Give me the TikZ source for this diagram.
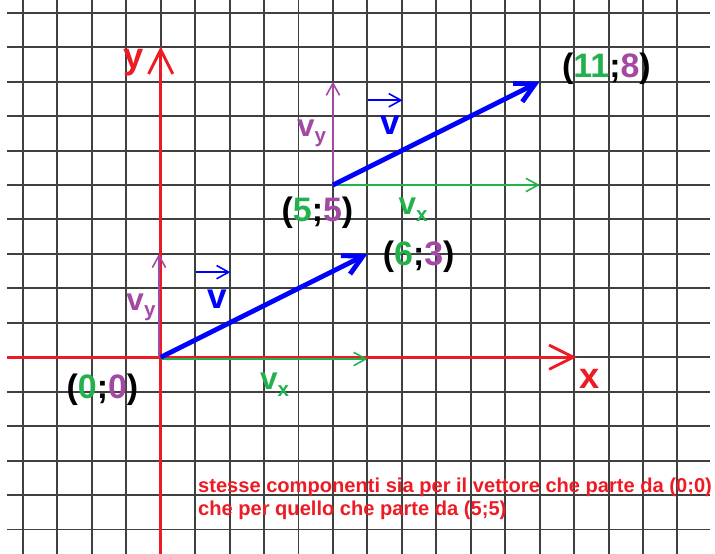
\documentclass[tikz,border=0pt]{standalone}
\usepackage{fontspec}
\setmainfont{Liberation Sans}[BoldFont={Liberation Sans Bold}]
\usetikzlibrary{arrows.meta, calc, positioning}
\definecolor{paintred}{RGB}{237,28,36}
\definecolor{paintgreen}{RGB}{34,177,76}
\definecolor{paintpurple}{RGB}{163,73,164}
\definecolor{paintblue}{RGB}{0,0,255}
\newcommand{\comp}[2]{#1\raisebox{-0.22em}{\fontsize{17}{17}\selectfont #2}}

\begin{document}
\begin{tikzpicture}[x=1cm, y=1cm,
    gridline/.style={black!75, line width=1.6pt},
    axis/.style={paintred, line width=2.4pt, -{Straight Barb[length=20pt, width=20pt]}},
    vec/.style={paintblue, line width=4pt, -{Straight Barb[length=16pt, width=17pt]}},
    compx/.style={paintgreen, line width=1.3pt, -{Straight Barb[length=10pt, width=11pt]}},
    compy/.style={paintpurple, line width=1.3pt, -{Straight Barb[length=10pt, width=11pt]}},
    overarrow/.style={paintblue, line width=1.3pt, -{Straight Barb[length=10pt, width=11pt]}},
    coordlbl/.style={font=\bfseries\fontsize{28}{28}\selectfont, inner sep=0pt},
    axislbl/.style={paintred, font=\bfseries\fontsize{30}{30}\selectfont, inner sep=0pt},
    vlbl/.style={font=\bfseries\fontsize{26}{26}\selectfont, inner sep=0pt, anchor=base west},
    note/.style={paintred, font=\bfseries\fontsize{16.6}{18.6}\selectfont, align=left, inner sep=0pt, anchor=base west}]
    \path[use as bounding box, fill=white] (-4.665,-5.71) rectangle (16.09,10.37);

    % quadretti
    \foreach \gx in {-4,...,15}
        \draw[gridline] (\gx,-5.71) -- (\gx,10.37);
    \foreach \gy in {-5,...,10}
        \draw[gridline] (-4.46,\gy) -- (15.94,\gy);

    \coordinate (O) at (0,0);
    \coordinate (A) at (6,3);
    \coordinate (B) at (5,5);
    \coordinate (C) at (11,8);
    \coordinate (Ax) at (6,-0.05);
    \coordinate (Ay) at (-0.05,3);
    \coordinate (Ox) at (0,-0.05);
    \coordinate (Oy) at (-0.05,0);
    \coordinate (Bx) at (11,5);
    \coordinate (By) at (5,8);
    \coordinate (xstart) at (-4.46,0);
    \coordinate (xend) at (12.07,0);
    \coordinate (ystart) at (0,-5.71);
    \coordinate (yend) at (0,9.02);

    % assi
    \draw[axis] (xstart) -- (xend);
    \draw[axis] (ystart) -- (yend);
    \node[axislbl] (xlbl) at (12.45,-0.62) {x};
    \node[axislbl] (ylbl) at (-0.79,8.55) {y};

    % componenti
    \draw[compx] (Ox) -- (Ax);
    \draw[compy] (Oy) -- (Ay);
    \draw[compx] (B) -- (Bx);
    \draw[compy] (B) -- (By);

    % vettori
    \draw[vec] (O) -- (A);
    \draw[vec] (B) -- (C);

    \node[coordlbl] (lblO) at (-1.69,-0.95) {(\textcolor{paintgreen}{0};\textcolor{paintpurple}{0})};
    \node[coordlbl] (lblA) at (7.49,2.92) {(\textcolor{paintgreen}{6};\textcolor{paintpurple}{3})};
    \node[coordlbl] (lblB) at (4.55,4.2) {(\textcolor{paintgreen}{5};\textcolor{paintpurple}{5})};
    \node[coordlbl] (lblC) at (12.94,8.37) {(\textcolor{paintgreen}{11};\textcolor{paintpurple}{8})};

    \node[vlbl, paintpurple] (vyO) at (-1.0,1.37) {\comp{v}{y}};
    \node[vlbl, paintpurple] (vyB) at (3.95,6.42) {\comp{v}{y}};
    \node[vlbl, paintgreen] (vxO) at (2.88,-0.95) {\comp{v}{x}};
    \node[vlbl, paintgreen] (vxB) at (6.90,4.13) {\comp{v}{x}};
    \node[vlbl, paintblue, font=\bfseries\fontsize{29}{29}\selectfont] (vO) at (1.34,1.42) {v};
    \node[vlbl, paintblue, font=\bfseries\fontsize{29}{29}\selectfont] (vB) at (6.36,6.48) {v};
    \coordinate (arrO) at (1.03,2.47);
    \coordinate (arrB) at (6.03,7.46);
    \draw[overarrow] (arrO) -- ++(0.99,0);
    \draw[overarrow] (arrB) -- ++(0.99,0);

    \node[note] (nota) at (1.08,-4.58) {stesse componenti sia per il vettore che parte da (0;0)\\che per quello che parte da (5;5)};
\end{tikzpicture}
\end{document}
